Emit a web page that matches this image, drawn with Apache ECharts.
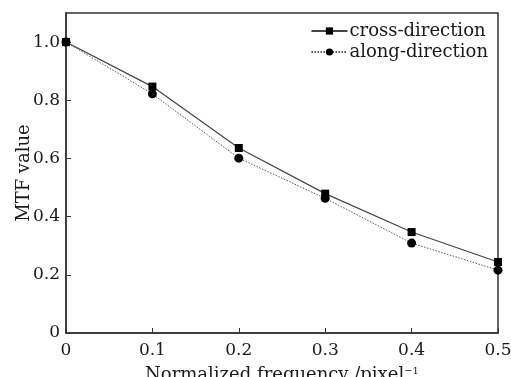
<!DOCTYPE html>
<html>
<head>
<meta charset="utf-8">
<script src="https://cdn.jsdelivr.net/npm/echarts@6/dist/echarts.min.js"></script>
<style>
  html, body { margin: 0; padding: 0; background: #fff; }
  #main { width: 511px; height: 377px; }
</style>
</head>
<body>
<div id="main"></div>
<script>
const freq = [0, 0.1, 0.2, 0.3, 0.4, 0.5];
const crossDir = [1.0, 0.847, 0.636, 0.479, 0.347, 0.244];
const alongDir = [1.0, 0.822, 0.601, 0.463, 0.309, 0.216];
const xTicks = ['0', '0.1', '0.2', '0.3', '0.4', '0.5'];
const yTicks = ['0', '0.2', '0.4', '0.6', '0.8', '1.0'];

const font = '"DejaVu Serif", "Liberation Serif", serif';
const ink = '#1a1a1a';

const chart = echarts.init(document.getElementById('main'));
chart.setOption({
  animation: false,
  grid: {
    left: 66, right: 13, top: 13, bottom: 44,
    outerBoundsMode: 'none',
    show: true, borderColor: '#333', borderWidth: 1.5
  },
  legend: {
    orient: 'vertical',
    right: 18, top: 17,
    itemWidth: 36, itemHeight: 9, itemGap: 3,
    textStyle: { fontFamily: font, fontSize: 18, color: ink, padding: [0, 0, 0, -3] },
    data: ['cross-direction', 'along-direction']
  },
  xAxis: {
    type: 'value', min: 0, max: 0.5, interval: 0.1,
    name: 'Normalized frequency /pixel{sup|−1}',
    nameLocation: 'middle', nameGap: 33,
    nameTextStyle: {
      fontFamily: font, fontSize: 18, color: ink,
      rich: { sup: { fontFamily: font, fontSize: 10, color: ink, verticalAlign: 'top', padding: [0, 0, 8, 0] } }
    },
    axisLine: { lineStyle: { color: '#333', width: 1.5 } },
    axisTick: { inside: true, length: 5, lineStyle: { color: '#333' } },
    splitLine: { show: false },
    axisLabel: {
      fontFamily: font, fontSize: 17, color: ink, margin: 9,
      formatter: v => xTicks[Math.round(v * 10)]
    }
  },
  yAxis: {
    type: 'value', min: 0, max: 1.1, interval: 0.2,
    name: 'MTF value',
    nameLocation: 'middle', nameGap: 33, nameMoveOverlap: false,
    nameTextStyle: { fontFamily: font, fontSize: 18, color: ink },
    axisLine: { lineStyle: { color: '#333', width: 1.5 } },
    axisTick: { inside: true, length: 5, lineStyle: { color: '#333' } },
    splitLine: { show: false },
    axisLabel: {
      fontFamily: font, fontSize: 17, color: ink, margin: 6,
      showMaxLabel: false,
      formatter: v => yTicks[Math.round(v * 5)] || ''
    }
  },
  series: [
    {
      name: 'cross-direction', type: 'line',
      data: freq.map((f, i) => [f, crossDir[i]]),
      symbol: 'rect', symbolSize: 8,
      itemStyle: { color: '#000' },
      lineStyle: { color: '#444', width: 1.2, type: 'solid' }
    },
    {
      name: 'along-direction', type: 'line',
      data: freq.map((f, i) => [f, alongDir[i]]),
      symbol: 'circle', symbolSize: 9,
      itemStyle: { color: '#000' },
      lineStyle: { color: '#555', width: 1, type: [1.5, 1.5] }
    }
  ]
});
</script>
</body>
</html>
